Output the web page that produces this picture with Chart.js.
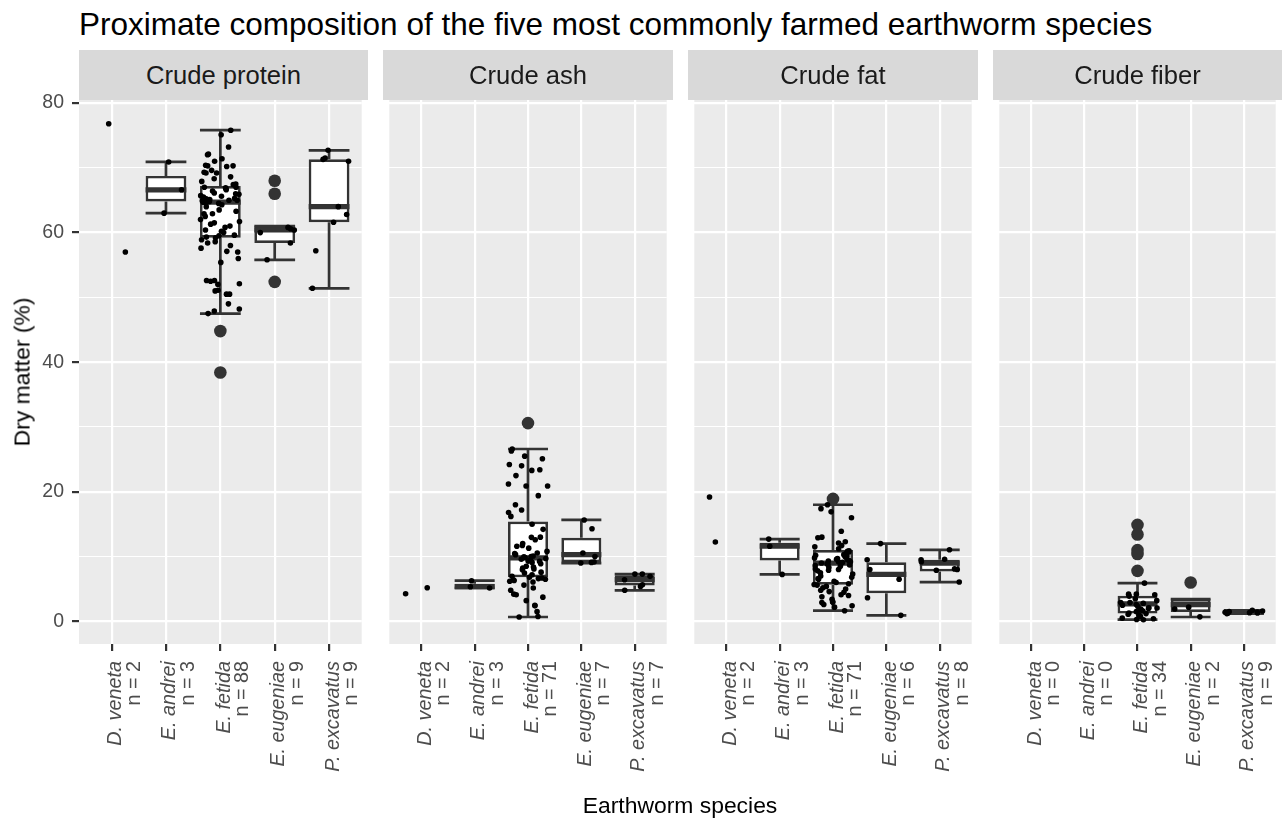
<!DOCTYPE html>
<html>
<head>
<meta charset="utf-8">
<script src="https://cdn.jsdelivr.net/npm/chart.js@4.4.0/dist/chart.umd.min.js"></script>
<style>
  body { margin: 0; background: #fff; width: 1287px; height: 820px; position: relative; overflow: hidden;
         font-family: "Liberation Sans", Arial, sans-serif; }
  canvas { position: absolute; top: 50px; }
  .strip { position: absolute; top: 50px; height: 50px; line-height: 50px; background: #d9d9d9;
           color: #1a1a1a; font-size: 25.6px; text-align: center; white-space: nowrap; }
  #title { position: absolute; left: 79px; top: 9px; font-size: 31.5px; line-height: 31.5px; color: #000; white-space: nowrap; }
  #xtitle { position: absolute; left: 680px; top: 794px; transform: translateX(-50%); font-size: 22.9px; line-height: 22.9px; white-space: nowrap; }
  #ytitle { position: absolute; left: 22px; top: 372px; transform: translate(-50%, -50%) rotate(-90deg); font-size: 22.9px; line-height: 22.9px; white-space: nowrap; }
</style>
</head>
<body>
<canvas id="c0" width="368" height="770" style="left:0px"></canvas>
<canvas id="c1" width="290" height="770" style="left:383px"></canvas>
<canvas id="c2" width="290" height="770" style="left:688px"></canvas>
<canvas id="c3" width="289" height="770" style="left:993px"></canvas>
<div id="title">Proximate composition of the five most commonly farmed earthworm species</div>
<div class="strip" style="left:79px;width:289px">Crude protein</div>
<div class="strip" style="left:383px;width:290px">Crude ash</div>
<div class="strip" style="left:688px;width:290px">Crude fat</div>
<div class="strip" style="left:993px;width:289px">Crude fiber</div>
<div id="xtitle">Earthworm species</div>
<div id="ytitle">Dry matter (%)</div>
<script>
// categories
const species = ['D. veneta', 'E. andrei', 'E. fetida', 'E. eugeniae', 'P. excavatus'];
const facets = ['Crude protein', 'Crude ash', 'Crude fat', 'Crude fiber'];
const nCounts = [[2, 3, 88, 9, 9], [2, 3, 71, 7, 7], [2, 3, 71, 6, 8], [0, 0, 34, 2, 9]];
const yTicks = [0, 20, 40, 60, 80];

// raw observations (jittered dots), one list per species
const proteinPts = [
  [76.8, 57.0],
  [63.0, 66.6, 70.9],
  [75.8, 75.1, 73.2, 72.1, 72.0, 71.4, 71.0, 70.4, 70.3, 70.3, 70.2, 69.6, 69.2, 69.2, 69.3, 68.3, 68.6, 67.9, 67.5, 67.4,
   67.0, 67.0, 66.9, 66.8, 66.4, 66.1, 66.0, 65.9, 65.7, 65.6, 65.5, 65.3, 65.2, 65.1, 65.0, 65.0, 64.9, 64.8, 64.8, 64.7, 64.7, 66.6,
   64.6, 64.5, 64.3, 64.0, 63.5, 63.3, 62.9, 62.9, 62.5, 62.0, 61.7, 61.5, 61.3, 61.0, 60.8, 60.4, 60.2, 60.0, 59.6, 59.5, 59.3, 59.2,
   58.9, 58.6, 58.4, 58.0, 57.6, 57.1, 57.0, 56.0, 55.4, 52.6, 52.6, 52.5, 52.1, 52.0, 51.1, 51.0, 50.5, 50.5, 49.0, 48.2, 47.9, 47.5],
  [60.6, 60.0, 58.4, 60.8, 60.4, 55.8],
  [57.2, 71.3, 71.0, 71.5, 72.7, 64.0, 62.8, 61.6, 51.4]
];
const ashPts = [
  [4.27, 5.2],
  [6.28, 5.15, 5.35],
  [26.6, 26.3, 25.5, 25.1, 24.2, 24.0, 23.4, 23.3, 22.5, 21.2, 20.9, 20.9, 19.4, 18.0, 17.2, 16.8, 16.2,
   15.0, 14.2, 13.0, 12.97, 12.6, 12.0, 11.7, 11.6, 11.3, 10.8, 10.55, 10.45, 10.3, 10.1, 10.0, 9.95, 9.85,
   9.7, 9.6, 9.5, 9.3, 9.26, 9.1, 8.9, 8.5, 8.4, 8.24, 8.1, 7.98, 7.6, 7.46, 7.2, 6.95, 6.8,
   6.7, 6.6, 6.5, 6.43, 6.3, 6.2, 6.07, 5.6, 5.15, 4.8, 4.2, 4.1, 3.74, 3.2, 2.5, 2.4, 1.5, 0.75, 0.68],
  [15.65, 14.3, 10.55, 10.0, 9.0, 9.16, 9.1],
  [5.66, 6.43, 7.3, 6.95, 7.3, 5.4, 4.8]
];
const fatPts = [
  [19.2, 12.25],
  [11.6, 12.7, 7.25],
  [18.0, 17.4, 16.9, 16.0, 13.9, 13.0, 12.9, 12.3, 12.1, 11.7, 11.5, 11.2,
   10.9, 10.8, 10.7, 10.5, 10.4, 10.3, 10.2, 10.1, 10.0, 9.9, 9.8, 9.7, 9.6, 9.5, 9.4, 9.3, 9.2, 9.2, 9.1, 9.0,
   8.9, 8.8, 8.7, 8.6, 8.5, 8.3, 8.1, 8.0, 7.9, 7.8, 7.5, 7.3, 7.0, 6.8, 6.6, 6.5, 6.2, 6.0, 5.8, 5.7,
   5.6, 5.4, 5.2, 5.0, 4.8, 4.6, 4.5, 4.1, 4.0, 3.8, 3.4, 3.0, 3.0, 2.9, 2.6, 2.4, 2.2, 1.65],
  [12.0, 9.5, 8.0, 6.5, 3.65, 0.93],
  [8.0, 7.9, 6.07, 8.1, 9.5, 9.6, 11.05, 9.2]
];
const fiberPts = [
  [],
  [],
  [5.9, 4.2, 4.1, 4.2, 3.9, 3.5, 3.2, 2.9, 2.9, 2.8, 2.6, 2.5, 2.3, 2.1, 2.06, 2.0, 1.9, 1.8, 1.6, 1.5,
   1.3, 1.2, 1.1, 1.0, 0.8, 0.5, 0.4, 0.26, 0.3],
  [2.2, 1.9, 0.7],
  [1.7, 1.2, 1.4, 1.5, 1.3, 1.35, 1.45, 1.6, 1.25]
];

// box statistics [facet][species]
const boxQ1 = [[null, 64.8, 59.2, 58.4, 61.6], [null, 5.25, 6.8, 9.13, 5.53], [null, 9.4, 5.66, 4.36, 7.7], [null, null, 1.2, 1.45, 1.25]];
const boxMedian = [[null, 66.6, 64.7, 60.4, 64.0], [null, 5.35, 9.8, 10.3, 6.43], [null, 11.6, 9.0, 7.25, 9.0], [null, null, 2.7, 2.6, 1.4]];
const boxQ3 = [[null, 68.75, 67.2, 61.0, 71.3], [null, 5.8, 15.4, 12.9, 7.13], [null, 12.15, 11.0, 9.13, 9.5], [null, null, 3.95, 3.45, 1.55]];
const whiskerLow = [[null, 63.0, 47.5, 55.8, 51.4], [null, 5.15, 0.68, 9.0, 4.8], [null, 7.25, 1.65, 0.93, 6.07], [null, null, 0.26, 0.68, 1.2]];
const whiskerHigh = [[null, 70.9, 75.8, 61.0, 72.7], [null, 6.28, 26.6, 15.65, 7.3], [null, 12.7, 18.0, 12.0, 11.05], [null, null, 5.9, 3.45, 1.7]];
const outliers = [
  [[], [], [44.8, 38.4], [68.0, 66.0, 52.4], []],
  [[], [], [30.6], [], []],
  [[], [], [18.9], [], []],
  [[], [], [14.9, 13.4, 11.0, 10.4, 7.8], [6.0], []]
];

const facetPts = [proteinPts, ashPts, fatPts, fiberPts];
const FONT = '"Liberation Sans", Arial, sans-serif';
const DARK = '#333333';

// fixed pseudo jitter so the dots spread sideways the same way every run
function jitter(f, s, j) {
  const h = Math.sin((f + 1) * 127.1 + (s + 1) * 311.7 + (j + 1) * 74.7) * 43758.5453;
  return (h - Math.floor(h) - 0.5) * 0.74;
}

const panelBg = {
  id: 'panelBg',
  beforeDraw(chart) {
    const { ctx, chartArea: a } = chart;
    ctx.save();
    ctx.fillStyle = '#ebebeb';
    ctx.fillRect(a.left, a.top, a.width, a.height);
    ctx.restore();
  }
};

// whiskers, caps and median line on top of the floating bars
const whiskers = {
  id: 'whiskers',
  afterDatasetDraw(chart, args) {
    const ds = chart.data.datasets[args.index];
    if (ds.type !== 'bar') return;
    const f = ds.facet;
    const { ctx, scales: { y } } = chart;
    ctx.save();
    ctx.strokeStyle = DARK;
    ctx.lineCap = 'butt';
    args.meta.data.forEach((bar, j) => {
      const s = ds.data[j].x;
      const half = bar.width / 2;
      const yq1 = y.getPixelForValue(boxQ1[f][s]);
      const yq3 = y.getPixelForValue(boxQ3[f][s]);
      const ylo = y.getPixelForValue(whiskerLow[f][s]);
      const yhi = y.getPixelForValue(whiskerHigh[f][s]);
      const ymed = y.getPixelForValue(boxMedian[f][s]);
      ctx.lineWidth = 2.7;
      ctx.beginPath();
      ctx.moveTo(bar.x, yq3); ctx.lineTo(bar.x, yhi);
      ctx.moveTo(bar.x, yq1); ctx.lineTo(bar.x, ylo);
      ctx.moveTo(bar.x - half, yhi); ctx.lineTo(bar.x + half, yhi);
      ctx.moveTo(bar.x - half, ylo); ctx.lineTo(bar.x + half, ylo);
      ctx.stroke();
      ctx.lineWidth = 5.2;
      ctx.beginPath();
      ctx.moveTo(bar.x - half, ymed); ctx.lineTo(bar.x + half, ymed);
      ctx.stroke();
    });
    ctx.restore();
  }
};

// two line x labels: italic species name and a plain "n = " line
const speciesLabels = {
  id: 'speciesLabels',
  afterDraw(chart, args, opts) {
    const { ctx, scales: { x }, chartArea } = chart;
    ctx.save();
    ctx.fillStyle = '#4d4d4d';
    ctx.textAlign = 'right';
    ctx.textBaseline = 'alphabetic';
    species.forEach((name, i) => {
      ctx.save();
      ctx.translate(x.getPixelForValue(i), chartArea.bottom + 17);
      ctx.rotate(-Math.PI / 2);
      ctx.font = 'italic 19.8px ' + FONT;
      ctx.fillText(name, 0, 9.5);
      ctx.font = '19.8px ' + FONT;
      ctx.fillText('n = ' + opts.counts[i], 0, 28);
      ctx.restore();
    });
    ctx.restore();
  }
};

facets.forEach((facet, f) => {
  const jitterData = [];
  facetPts[f].forEach((vals, s) => vals.forEach((v, j) => jitterData.push({ x: s + jitter(f, s, j), y: v })));
  const outData = [];
  outliers[f].forEach((vals, s) => vals.forEach(v => outData.push({ x: s, y: v })));
  const boxData = species
    .map((sp, s) => boxQ1[f][s] == null ? null : { x: s, y: [boxQ1[f][s], boxQ3[f][s]] })
    .filter(Boolean);

  new Chart(document.getElementById('c' + f), {
    type: 'scatter',
    data: {
      datasets: [
        { type: 'scatter', data: jitterData, pointRadius: 2.8, backgroundColor: '#000', borderWidth: 0, order: 0 },
        { type: 'scatter', data: outData, pointRadius: 6.3, backgroundColor: DARK, borderWidth: 0, order: 1 },
        { type: 'bar', data: boxData, facet: f, backgroundColor: '#ffffff', borderColor: DARK, borderWidth: 2.7,
          borderSkipped: false, barPercentage: 0.75, categoryPercentage: 1, order: 2 }
      ]
    },
    options: {
      responsive: false,
      animation: false,
      layout: { padding: { top: 50, left: 0, right: 0, bottom: 0 } },
      plugins: {
        legend: { display: false },
        tooltip: { enabled: false },
        speciesLabels: { counts: nCounts[f] }
      },
      scales: {
        x: {
          type: 'linear', min: -0.6, max: 4.6, offset: false,
          afterFit: s => { s.height = 176; },
          border: { display: false },
          grid: { color: '#ffffff', lineWidth: 2.2, offset: false, drawTicks: true, tickLength: 7, tickColor: DARK, tickWidth: 2.2 },
          ticks: { display: false, stepSize: 1, includeBounds: false }
        },
        y: {
          type: 'linear', min: -3.49, max: 80.46, beginAtZero: false,
          afterFit: s => { s.width = f === 0 ? 79 : 0; },
          border: { display: false },
          grid: {
            color: '#ffffff',
            lineWidth: c => (c.tick && yTicks.includes(c.tick.value)) ? 2.2 : 1.1,
            drawTicks: f === 0,
            tickLength: 7,
            tickWidth: 2.2,
            tickColor: c => (c.tick && yTicks.includes(c.tick.value)) ? DARK : 'rgba(0,0,0,0)'
          },
          ticks: {
            display: f === 0,
            stepSize: 10,
            includeBounds: false,
            padding: 8,
            color: '#4d4d4d',
            font: { size: 19.5, family: FONT },
            callback: v => yTicks.includes(v) ? String(v) : ''
          }
        }
      }
    },
    plugins: [panelBg, whiskers, speciesLabels]
  });
});
</script>
</body>
</html>
